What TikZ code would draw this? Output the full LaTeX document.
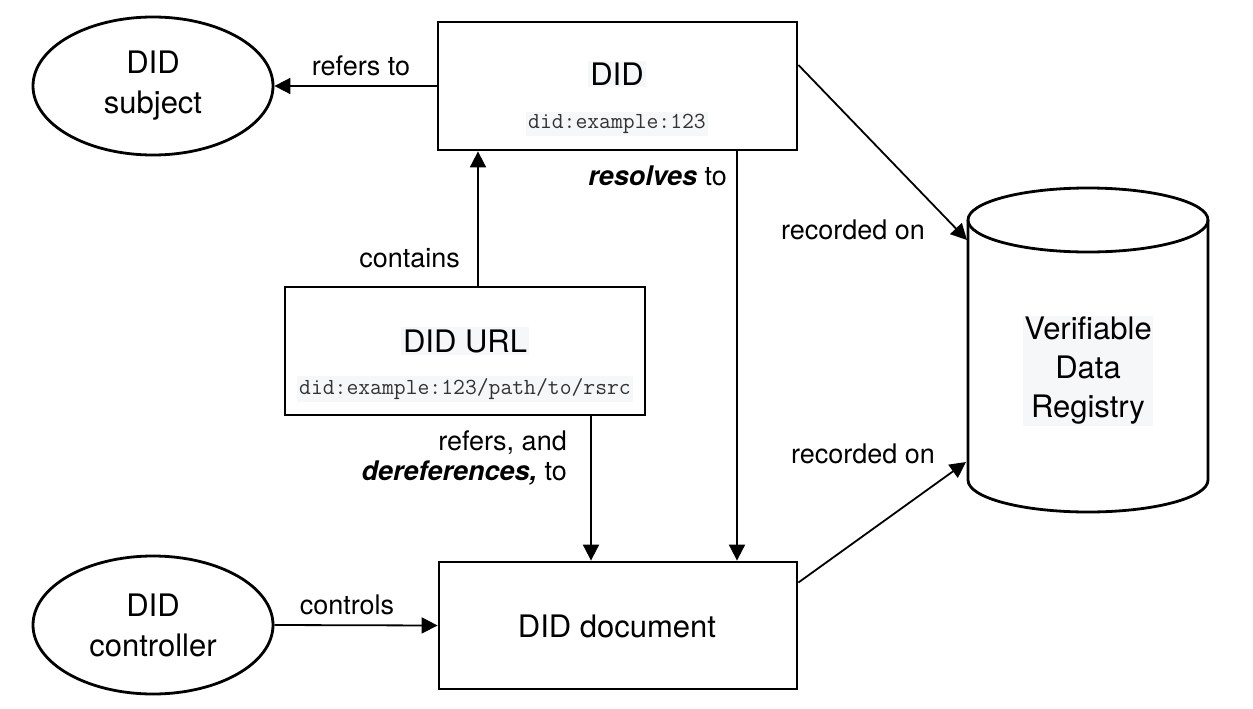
\documentclass[tikz,border=0pt]{standalone}
\usepackage{fontspec}
\setmainfont{TeX Gyre Heros}
\usetikzlibrary{shapes.geometric,arrows.meta}
\definecolor{codebg}{HTML}{F6F7F9}
\definecolor{codefg}{HTML}{333333}
\tikzset{
  box/.style={draw, line width=2.8pt, rectangle, inner sep=0pt},
  oval/.style={draw, line width=2.8pt, ellipse, inner sep=0pt, minimum width=240pt, minimum height=138pt,
    align=center, font=\fontsize{31}{40}\selectfont},
  big/.style={font=\fontsize{31}{39}\selectfont, inner sep=2pt, align=center},
  code/.style={font=\fontsize{23}{26}\selectfont\ttfamily, text=codefg, fill=codebg, inner sep=2pt},
  lbl/.style={font=\fontsize{27}{30}\selectfont, inner sep=0pt, align=right},
  arr/.style={line width=1.8pt, -{Triangle[length=16pt,width=16pt]}},
}
\begin{document}
\begin{tikzpicture}[x=1pt,y=-1pt]
\useasboundingbox (0,0) rectangle (1253,709);

% nodes
\node[oval] (subj) at (153,86) {DID\\subject};
\node[oval] (ctrl) at (153,625) {DID\\controller};
\node[box, minimum width=359pt, minimum height=128pt] (did) at (617.5,86) {};
\node[big, fill=codebg] (didt) at (617,74) {DID};
\node[code] (didc) at (617,124) {did:example:123};

\node[box, minimum width=360pt, minimum height=128pt] (url) at (465,351) {};
\node[big, fill=codebg] (urlt) at (465,341) {DID URL};
\node[code] (urlc) at (465,389) {did:example:123/path/to/rsrc};

\node[box, minimum width=358pt, minimum height=127pt] (doc) at (618,625.5) {};
\node[big] (doct) at (617,626) {DID document};

% cylinder
\node[minimum width=240pt, minimum height=324pt, inner sep=0pt] (vdr) at (1088,350) {};
\draw[line width=2.8pt] (968,220) -- (968,480) arc[start angle=180, end angle=360, x radius=120pt, y radius=32pt] -- (1208,220);
\draw[line width=2.8pt] (1088,220) ellipse [x radius=120pt, y radius=32pt];
\node[big, fill=codebg, inner sep=1pt] (vdrt) at (1088,371) {Verifiable\\Data\\Registry};

\coordinate (vtop) at (967,240);
\coordinate (vbot) at (966,462);
\coordinate (cx1) at (478,0);
\coordinate (cx2) at (737,0);
\coordinate (cx3) at (591,0);

% connectors
\draw[arr] (did.west) -- (subj.east);
\draw[arr] (cx1 |- url.north) -- (cx1 |- did.south);
\draw[arr] (cx2 |- did.south) -- (cx2 |- doc.north);
\draw[arr] (cx3 |- url.south) -- (cx3 |- doc.north);
\draw[arr] (ctrl.east) -- (doc.west);
\draw[arr] ([yshift=21pt]did.east) -- (vtop);
\draw[arr] ([yshift=43pt]doc.east) -- (vbot);

% labels
\node[lbl] (l1) at (361,66) {refers to};
\node[lbl, anchor=east] (l2) at (727,176) {\textbf{\textit{resolves}} to};
\node[lbl, anchor=east] (l3) at (460,258) {contains};
\node[lbl, anchor=east] (l4) at (567,458) {refers, and\\\textbf{\textit{dereferences,}} to};
\node[lbl] (l5) at (853,230) {recorded on};
\node[lbl] (l6) at (863,454) {recorded on};
\node[lbl] (l7) at (347,605) {controls};
\end{tikzpicture}
\end{document}
